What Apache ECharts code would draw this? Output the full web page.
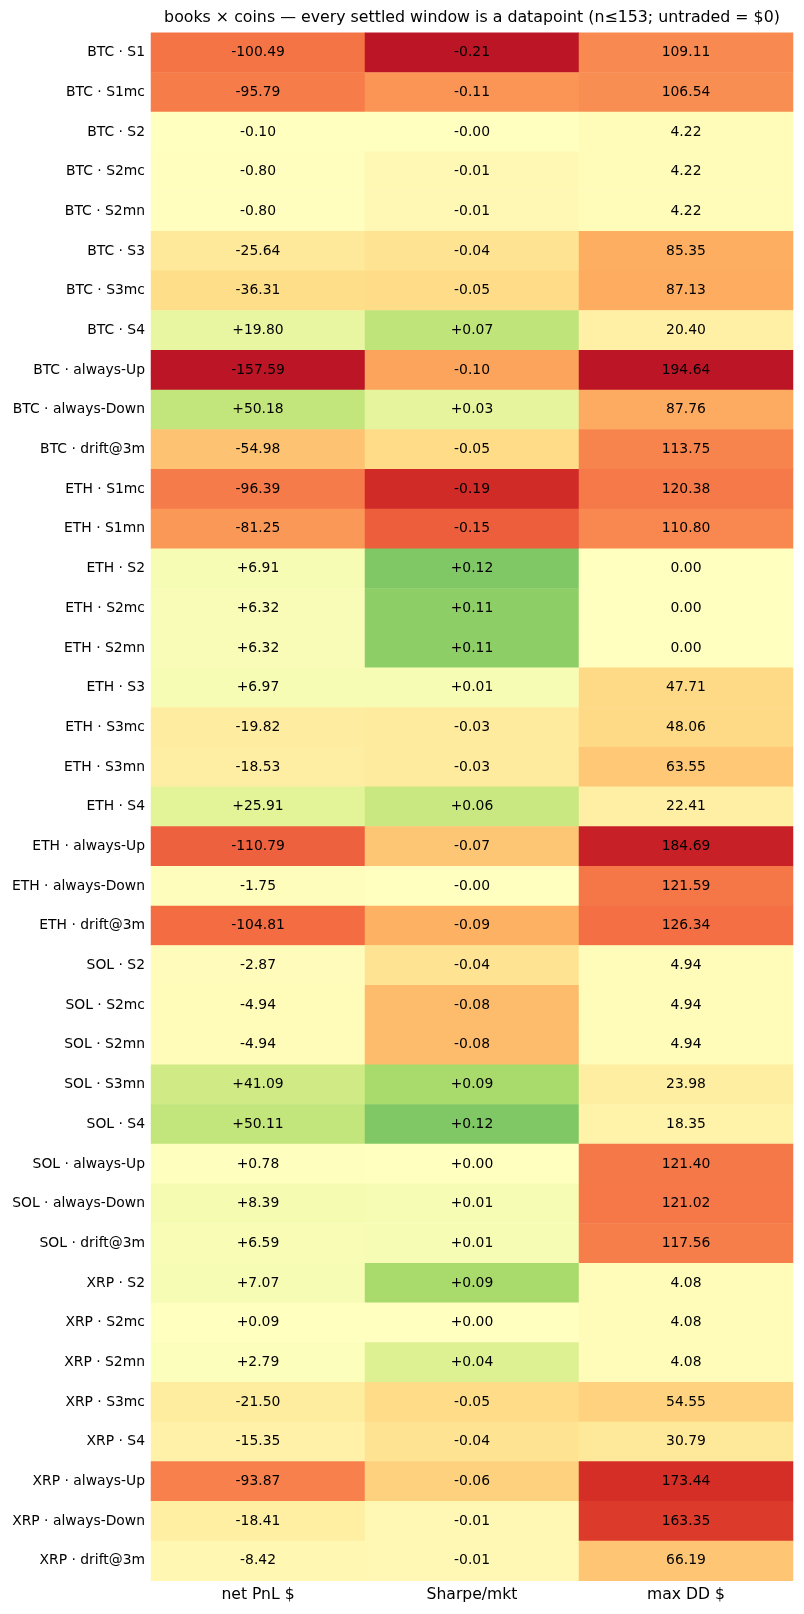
<!DOCTYPE html>
<html><head><meta charset="utf-8">
<script src="https://cdn.jsdelivr.net/npm/echarts@6/dist/echarts.min.js"></script>
<style>html,body{margin:0;padding:0;background:#fff}#c{width:804px;height:1614px}</style>
</head><body><div id="c"></div>
<script>
const rows = ['BTC · S1','BTC · S1mc','BTC · S2','BTC · S2mc','BTC · S2mn','BTC · S3','BTC · S3mc','BTC · S4','BTC · always-Up','BTC · always-Down','BTC · drift@3m',
'ETH · S1mc','ETH · S1mn','ETH · S2','ETH · S2mc','ETH · S2mn','ETH · S3','ETH · S3mc','ETH · S3mn','ETH · S4','ETH · always-Up','ETH · always-Down','ETH · drift@3m',
'SOL · S2','SOL · S2mc','SOL · S2mn','SOL · S3mn','SOL · S4','SOL · always-Up','SOL · always-Down','SOL · drift@3m',
'XRP · S2','XRP · S2mc','XRP · S2mn','XRP · S3mc','XRP · S4','XRP · always-Up','XRP · always-Down','XRP · drift@3m'];
const columns = ['net PnL $','Sharpe/mkt','max DD $'];
const pnl = [-100.49,-95.79,-0.10,-0.80,-0.80,-25.64,-36.31,19.80,-157.59,50.18,-54.98,
-96.39,-81.25,6.91,6.32,6.32,6.97,-19.82,-18.53,25.91,-110.79,-1.75,-104.81,
-2.87,-4.94,-4.94,41.09,50.11,0.78,8.39,6.59,
7.07,0.09,2.79,-21.50,-15.35,-93.87,-18.41,-8.42];
const sharpe = [-0.21,-0.11,-0,-0.01,-0.01,-0.04,-0.05,0.07,-0.10,0.03,-0.05,
-0.19,-0.15,0.12,0.11,0.11,0.01,-0.03,-0.03,0.06,-0.07,-0,-0.09,
-0.04,-0.08,-0.08,0.09,0.12,0,0.01,0.01,
0.09,0,0.04,-0.05,-0.04,-0.06,-0.01,-0.01];
const maxdd = [109.11,106.54,4.22,4.22,4.22,85.35,87.13,20.40,194.64,87.76,113.75,
120.38,110.80,0.00,0.00,0.00,47.71,48.06,63.55,22.41,184.69,121.59,126.34,
4.94,4.94,4.94,23.98,18.35,121.40,121.02,117.56,
4.08,4.08,4.08,54.55,30.79,173.44,163.35,66.19];
const titleText = 'books × coins — every settled window is a datapoint (n≤153; untraded = $0)';

function signed(v){ const neg = v < 0 || Object.is(v,-0); return (neg?'-':'+') + Math.abs(v).toFixed(2); }
const maxAbs = a => Math.max(...a.map(Math.abs));
const mP = maxAbs(pnl), mS = maxAbs(sharpe), mD = maxAbs(maxdd);
const data = [];
rows.forEach((r,i)=>{
  data.push([0,i, pnl[i]/mP, signed(pnl[i])]);
  data.push([1,i, sharpe[i]/mS, signed(sharpe[i])]);
  data.push([2,i, -maxdd[i]/mD, maxdd[i].toFixed(2)]);
});
const F = 'DejaVu Sans';
const chart = echarts.init(document.getElementById('c'), null, {renderer:'canvas'});
chart.setOption({
  animation:false,
  backgroundColor:'#fff',
  graphic:[{type:'text', x:472, y:18, style:{text:titleText, font:'15.8px "DejaVu Sans"', fill:'#000', textAlign:'center', textVerticalAlign:'middle'}}],
  grid:{left:151, right:11, top:32.7, bottom:33.3},
  xAxis:{type:'category', data:columns, position:'bottom', axisLine:{show:false}, axisTick:{show:false}, splitLine:{show:false},
    axisLabel:{fontFamily:F, fontSize:15.6, color:'#000', margin:6}},
  yAxis:{type:'category', data:rows, inverse:true, axisLine:{show:false}, axisTick:{show:false}, splitLine:{show:false},
    axisLabel:{fontFamily:F, fontSize:13.9, color:'#000', margin:6}},
  visualMap:{show:false, type:'continuous', dimension:2, min:-1.1, max:1.1,
    inRange:{color:['#a50026','#d73027','#f46d43','#fdae61','#fee08b','#ffffbf','#d9ef8b','#a6d96a','#66bd63','#1a9850','#006837']}},
  series:[{type:'heatmap', data:data, encode:{x:0,y:1},
    label:{show:true, fontFamily:F, fontSize:13.9, color:'#000', formatter:p=>p.data[3]},
    itemStyle:{borderWidth:0},
    emphasis:{disabled:true}}]
});
</script></body></html>
